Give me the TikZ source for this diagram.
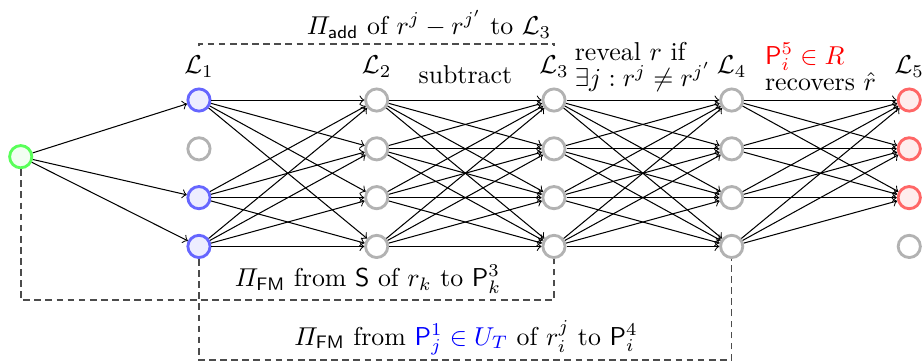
\documentclass[tikz,border=0pt]{standalone}
\usepackage{amsmath,amssymb}
\usepackage{tikz}
\usepackage{xcolor}
\usetikzlibrary{positioning,calc}

\begin{document}
\begin{tikzpicture}[
  every node/.style={font=\normalsize},
  idle/.style={draw=gray!60, circle, line width=1.1pt, minimum size=8.6pt, inner sep=0pt, fill=white},
  honest/.style={idle, draw=blue!60, fill=blue!7},
  recv/.style={idle, draw=red!60, fill=red!7},
  srcn/.style={idle, draw=green!65, fill=green!5},
  arr/.style={->, thin},
  dashbox/.style={black!70, semithick, dash pattern=on 2.6pt off 1.7pt},
  lay/.style={above=0.5pt of #1},
  note/.style={align=left},
]
\useasboundingbox (0,0) rectangle (12.558,-4.939);

% Source
\node[srcn] (src) at (0.282,-2.132) {};

% Layer 1
\node[honest] (a1) at (2.707,-1.361) {};
\node[idle]   (a2) at (2.707,-2.025) {};
\node[honest] (a3) at (2.707,-2.689) {};
\node[honest] (a4) at (2.707,-3.353) {};

% Layers 2 to 4
\foreach \l/\x in {b/5.125, c/7.537, d/9.955}
  \foreach \r in {1,...,4}
    \node[idle] (\l\r) at (\x, {-1.361-0.664*(\r-1)}) {};

% Layer 5
\node[recv] (e1) at (12.371,-1.361) {};
\node[recv] (e2) at (12.371,-2.025) {};
\node[recv] (e3) at (12.371,-2.689) {};
\node[idle] (e4) at (12.371,-3.353) {};

% Layer names
\node[lay=a1] (la) {$\mathcal{L}_1$};
\node[lay=b1] (lb) {$\mathcal{L}_2$};
\node[lay=c1] (lc) {$\mathcal{L}_3$};
\node[lay=d1] (ld) {$\mathcal{L}_4$};
\node[lay=e1] (le) {$\mathcal{L}_5$};

% Arrows
\foreach \i in {1,3,4}
  \draw[arr] (src) -- (a\i);
\foreach \i in {1,3,4}
  \foreach \j in {1,...,4}
    \draw[arr] (a\i) -- (b\j);
\foreach \i in {1,...,4}
  \foreach \j in {1,...,4} {
    \draw[arr] (b\i) -- (c\j);
    \draw[arr] (c\i) -- (d\j);
  }
\foreach \i in {1,...,4}
  \foreach \j in {1,2,3}
    \draw[arr] (d\i) -- (e\j);

% Step annotations
\node (sub) at ($(b1)!0.5!(c1)+(0,0.34)$) {subtract};
\node[note] (rev) at ($(c1)!0.5!(d1)+(0,0.45)$)
  {reveal $r$ if\\[-1.8pt] $\exists j : r^j \neq r^{j'}$};
\node[note] (rec) at ($(d1)!0.5!(e1)+(0,0.45)$)
  {\color{red}$\mathsf{P}_i^5 \in R$\\[-1.8pt] recovers $\hat{r}$};

% Sub-protocols (dashed)
\coordinate (top) at (0,-0.599);
\coordinate (bot2) at (0,-4.082);
\coordinate (bot3) at (0,-4.898);

\draw[dashbox] (la.north) -- (la.north |- top) -| (lc.north);
\node (add) at (5.837,-0.327) {$\varPi_{\mathsf{add}}$ of $r^j - r^{j'}$ to $\mathcal{L}_3$};

\draw[dashbox] (src.south) -- (src.south |- bot2) -| (c4.south);
\node (fms) at (5.007,-3.80) {$\varPi_{\mathsf{FM}}$ from $\mathsf{S}$ of $r_k$ to $\mathsf{P}_k^3$};

\draw[dashbox] (a4.south) -- (a4.south |- bot3) -| (d4.south);
\node (fmu) at (6.34,-4.599)
  {$\varPi_{\mathsf{FM}}$ from {\color{blue}$\mathsf{P}_j^1 \in U_T$} of $r_i^j$ to $\mathsf{P}_i^4$};
\end{tikzpicture}
\end{document}
